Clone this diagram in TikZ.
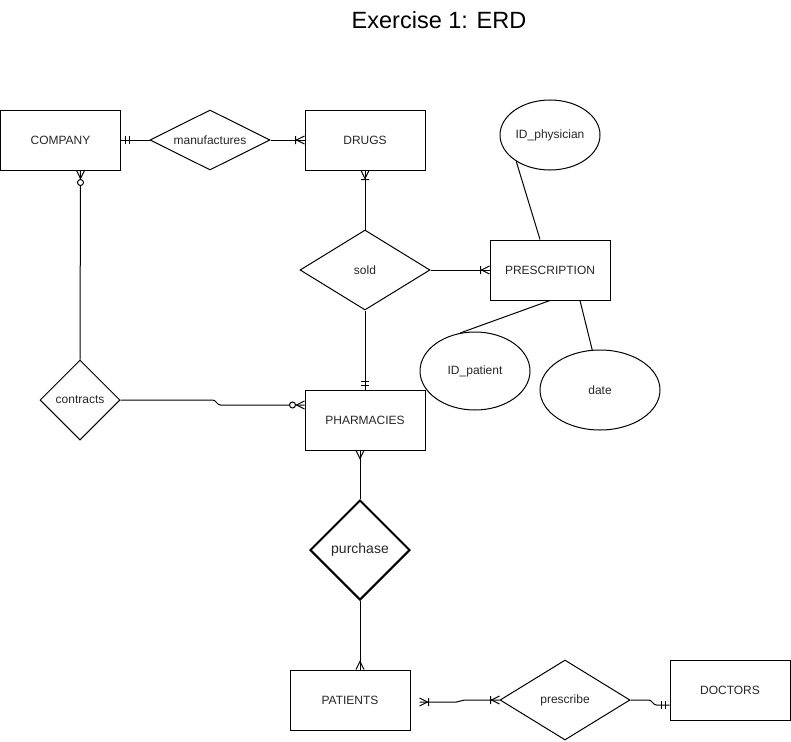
\documentclass[tikz,border=0pt]{standalone}
\usepackage{fontspec}
\setmainfont{Liberation Sans}
\usetikzlibrary{shapes.geometric}
\tikzset{
  mone/.pic={\draw (4.5,-4) -- (4.5,4) (8,-4) -- (8,4);},
  crowf/.pic={\draw (0,-4) -- (8,0) -- (0,4);},
  onemany/.pic={\draw (0,-4) -- (8,0) -- (0,4) (9,-4) -- (9,4);},
  zeromany/.pic={\draw (0,-4) -- (8,0) -- (0,4); \draw[fill=white] (12,0) circle (3);},
  entity/.style={draw, minimum width=120pt, minimum height=60pt},
  rel/.style={draw, diamond},
  attr/.style={draw, ellipse}
}
\begin{document}
\begin{tikzpicture}[x=1pt,y=-1pt, line width=1pt,
  every node/.style={font=\fontsize{12}{14}\selectfont, text=black!85, inner sep=0pt}]
\useasboundingbox (0,0) rectangle (791,741);
\node[font=\fontsize{23.5}{28}\selectfont, text=black] (title) at (439,20) {Exercise 1: ERD};
% entities
\node[entity] (comp) at (60.5,140) {COMPANY};
\node[entity] (drugs) at (365,140) {DRUGS};
\node[entity] (presc) at (550,270) {PRESCRIPTION};
\node[entity] (pharm) at (365,420) {PHARMACIES};
\node[entity] (pat) at (350,700) {PATIENTS};
\node[entity] (doc) at (730,690) {DOCTORS};
% relationships
\node[rel, aspect=2, minimum width=120pt, minimum height=60pt] (manuf) at (210,140) {manufactures};
\node[rel, aspect=1.625, minimum width=130pt, minimum height=80pt] (sold) at (365,270) {sold};
\node[rel, minimum width=80pt, minimum height=80pt] (contr) at (80,400) {contracts};
\node[rel, minimum width=100pt, minimum height=100pt, line width=2pt, font=\fontsize{14}{16}\selectfont] (purch) at (360,550) {purchase};
\node[rel, aspect=1.625, minimum width=130pt, minimum height=80pt] (prescr) at (565,700) {prescribe};
% attributes
\node[attr, minimum width=100pt, minimum height=70pt] (idphys) at (550,135) {ID\_physician};
\node[attr, minimum width=110pt, minimum height=78pt] (idpat) at (475,371) {ID\_patient};
\node[attr, minimum width=120pt, minimum height=80pt] (date) at (600,390) {date};
% connectors
\draw (comp.east) -- (manuf.west);
\pic at (comp.east) {mone};
\draw (manuf.east) -- (drugs.west);
\pic[rotate=180] at (drugs.west) {onemany};
\draw ([xshift=20pt]comp.south) -- (contr.north);
\pic[rotate=-90] at ([xshift=20pt]comp.south) {zeromany};
\draw (contr.east) -- ++(92,0) to[out=0,in=180] ++(8,5) -- ([yshift=15pt]pharm.west);
\pic[rotate=180] at ([yshift=15pt]pharm.west) {zeromany};
\draw (drugs.south) -- (sold.north);
\pic[rotate=-90] at (drugs.south) {onemany};
\draw (sold.east) -- (presc.west);
\pic[rotate=180] at (presc.west) {onemany};
\draw (sold.south) -- (pharm.north);
\pic[rotate=90] at (pharm.north) {mone};
\draw ([xshift=-5pt]pharm.south) -- (purch.north);
\pic[rotate=-90] at ([xshift=-5pt]pharm.south) {crowf};
\draw (purch.south) -- ([xshift=10pt]pat.north);
\pic[rotate=90] at ([xshift=10pt]pat.north) {crowf};
\coordinate (patout) at ([xshift=9pt,yshift=-2pt]pat.east);
\draw (patout) -- ++(37,0) to[out=0,in=180] ++(8,-2) -- (prescr.west);
\pic at (patout) {onemany};
\pic[rotate=180] at (prescr.west) {onemany};
\draw (prescr.east) -- ++(18,0) to[out=0,in=180] ++(8,5) -- ([yshift=-15pt]doc.west);
\pic[rotate=180] at ([yshift=-15pt]doc.west) {mone};
% attribute links
\draw (idphys.218) -- ([xshift=-10pt]presc.north);
\draw (presc.south) -- (idpat.111);
\draw ([xshift=30pt]presc.south) -- (date.101);
\end{tikzpicture}
\end{document}
